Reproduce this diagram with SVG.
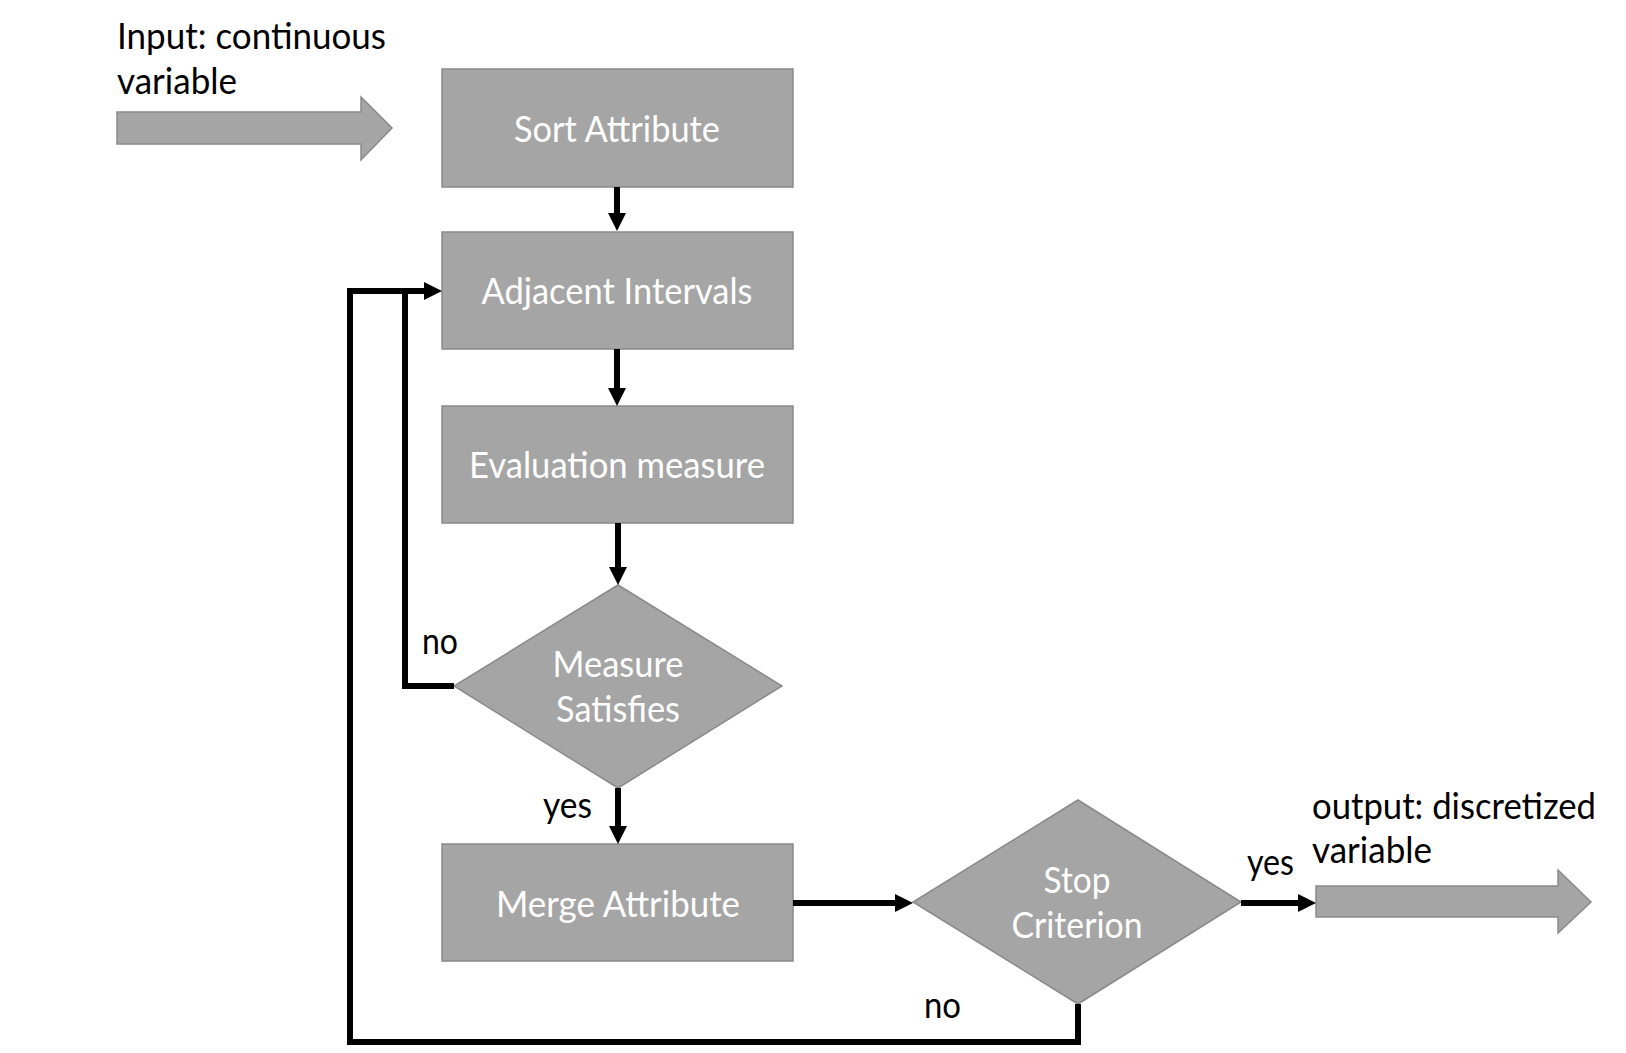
<svg xmlns="http://www.w3.org/2000/svg" width="1626" height="1053" viewBox="0 0 1626 1053">
<style>
.shape{fill:#a5a5a5;stroke:#8a8a8a;stroke-width:1.5}
.nt{font-family:Lato,"Open Sans","Liberation Sans",sans-serif;font-size:36px;fill:#ffffff;text-anchor:middle}
.lb{font-family:Lato,"Open Sans","Liberation Sans",sans-serif;font-size:36px;fill:#000000}
.cn{fill:none;stroke:#000000;stroke-width:6;stroke-linejoin:miter;stroke-linecap:butt}
</style>
<defs>
<marker id="ah" viewBox="0 0 18 18" refX="0" refY="9" markerWidth="18" markerHeight="18" markerUnits="userSpaceOnUse" orient="auto">
<path d="M0,0 L18,9 L0,18 z" fill="#000000"/>
</marker>
</defs>
<rect width="1626" height="1053" fill="#ffffff"/>
<g id="input">
<polygon class="shape" points="117,112 361,112 361,97 392,128 361,160 361,144 117,144"/>
<text class="lb" x="117" y="49" textLength="269" lengthAdjust="spacingAndGlyphs">Input: continuous</text>
<text class="lb" x="117" y="94" textLength="120" lengthAdjust="spacingAndGlyphs">variable</text>
</g>
<g id="sort">
<rect class="shape" x="442" y="69" width="351" height="118"/>
<text class="nt" x="617" y="142" textLength="206" lengthAdjust="spacingAndGlyphs">Sort Attribute</text>
</g>
<g id="adjacent">
<rect class="shape" x="442" y="232" width="351" height="117"/>
<text class="nt" x="617" y="304" textLength="271" lengthAdjust="spacingAndGlyphs">Adjacent Intervals</text>
</g>
<g id="evaluation">
<rect class="shape" x="442" y="406" width="351" height="117"/>
<text class="nt" x="617" y="478" textLength="296" lengthAdjust="spacingAndGlyphs">Evaluation measure</text>
</g>
<g id="measure">
<polygon class="shape" points="618,585 782,686 618,788 454,686"/>
<text class="nt" x="618" y="677" textLength="131" lengthAdjust="spacingAndGlyphs">Measure</text>
<text class="nt" x="618" y="722" textLength="124" lengthAdjust="spacingAndGlyphs">Satisfies</text>
</g>
<g id="merge">
<rect class="shape" x="442" y="844" width="351" height="117"/>
<text class="nt" x="618" y="917" textLength="244" lengthAdjust="spacingAndGlyphs">Merge Attribute</text>
</g>
<g id="stop">
<polygon class="shape" points="1078,800 1241,902 1078,1004 913,902"/>
<text class="nt" x="1077" y="893" textLength="67" lengthAdjust="spacingAndGlyphs">Stop</text>
<text class="nt" x="1077" y="938" textLength="131" lengthAdjust="spacingAndGlyphs">Criterion</text>
</g>
<g id="output">
<polygon class="shape" points="1316,886 1558,886 1558,870 1591,902 1558,933 1558,917 1316,917"/>
<text class="lb" x="1312" y="819" textLength="284" lengthAdjust="spacingAndGlyphs">output: discretized</text>
<text class="lb" x="1312" y="863" textLength="120" lengthAdjust="spacingAndGlyphs">variable</text>
</g>
<g id="connectors">
<path class="cn" d="M617,187 V213" marker-end="url(#ah)"/>
<path class="cn" d="M617,349 V388" marker-end="url(#ah)"/>
<path class="cn" d="M618,523 V567" marker-end="url(#ah)"/>
<path class="cn" d="M618,788 V826" marker-end="url(#ah)"/>
<path class="cn" d="M793,903 H895" stroke-width="6.5" marker-end="url(#ah)"/>
<path class="cn" d="M1241,903 H1298" stroke-width="6.5" marker-end="url(#ah)"/>
<path class="cn" d="M454,686 H405 V291"/>
<path class="cn" d="M1078,1004 V1042 H350 V291 H424" marker-end="url(#ah)"/>
<text class="lb" x="422" y="654" textLength="36" lengthAdjust="spacingAndGlyphs">no</text>
<text class="lb" x="543" y="818" textLength="49" lengthAdjust="spacingAndGlyphs">yes</text>
<text class="lb" x="924" y="1018" textLength="37" lengthAdjust="spacingAndGlyphs">no</text>
<text class="lb" x="1247" y="875" textLength="47" lengthAdjust="spacingAndGlyphs">yes</text>
</g>
</svg>
